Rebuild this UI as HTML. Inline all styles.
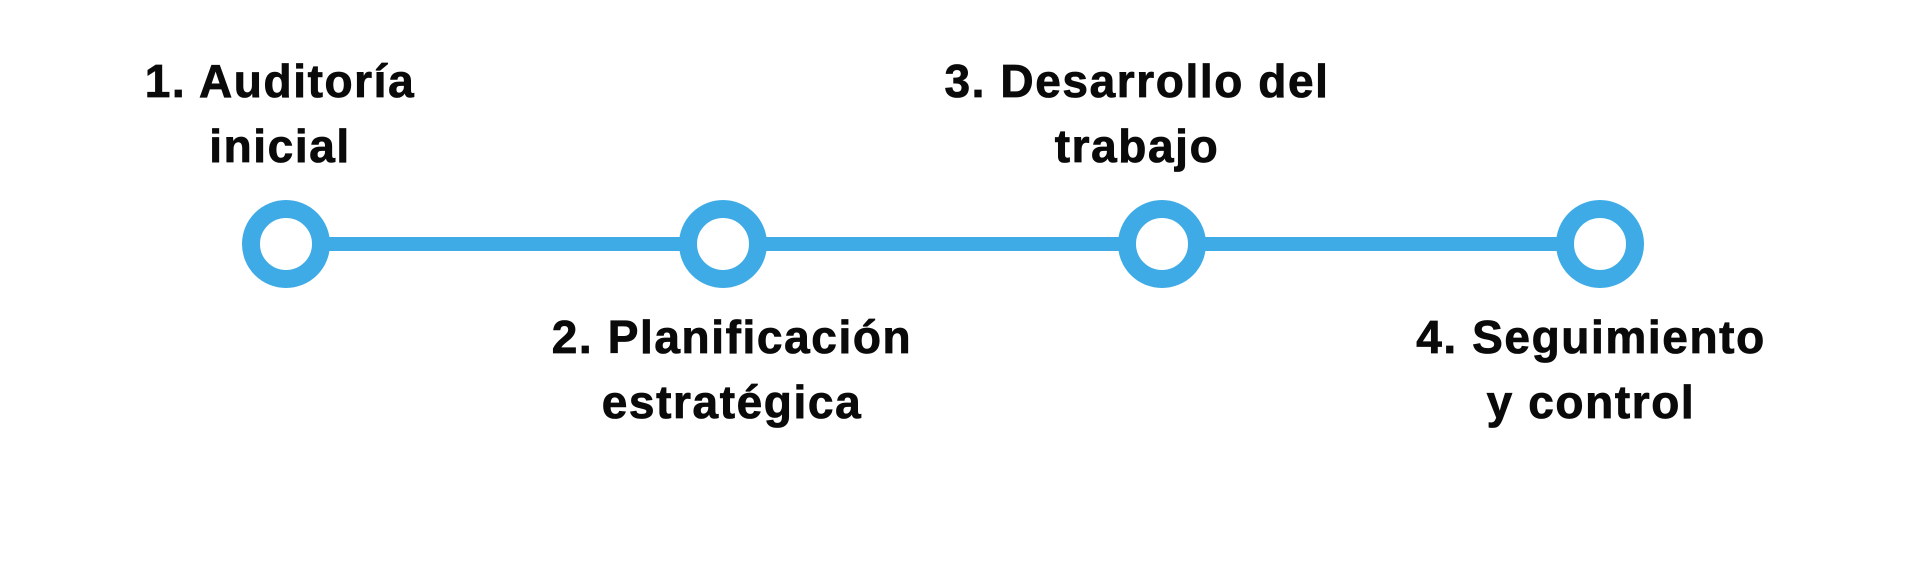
<!DOCTYPE html>
<html><head><style>
html,body{margin:0;padding:0;background:#fff;}
body{width:1919px;height:565px;position:relative;overflow:hidden;font-family:"Liberation Sans",Arial,sans-serif;}
.l{position:absolute;font-weight:bold;font-size:46px;line-height:65px;color:#0a0a0a;text-align:center;width:600px;transform:translateX(-50%);letter-spacing:1.6px;-webkit-text-stroke:0.8px #0a0a0a;}
</style></head><body>
<svg width="1919" height="565" style="position:absolute;left:0;top:0">
<line x1="286" y1="244" x2="1600" y2="244" stroke="#3eabe6" stroke-width="14"/>
<g fill="#fff" stroke="#3eabe6" stroke-width="18">
<circle cx="286" cy="244" r="35"/>
<circle cx="723" cy="244" r="35"/>
<circle cx="1162" cy="244" r="35"/>
<circle cx="1600" cy="244" r="35"/>
</g>
</svg>
<div class="l" style="left:280px;top:49px">1. Auditoría<br>inicial</div>
<div class="l" style="left:732px;top:305px">2. Planificación<br>estratégica</div>
<div class="l" style="left:1137px;top:49px">3. Desarrollo del<br>trabajo</div>
<div class="l" style="left:1591px;top:305px">4. Seguimiento<br>y control</div>
</body></html>
